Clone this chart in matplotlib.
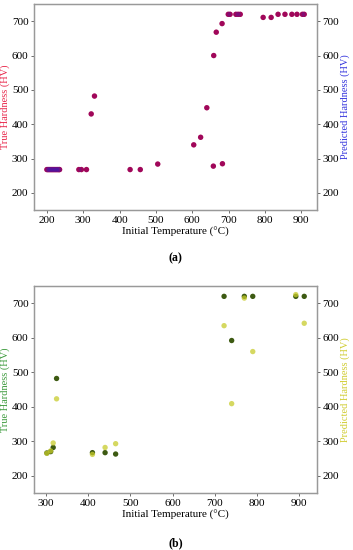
import numpy as np
import matplotlib
matplotlib.use('Agg')
import matplotlib.pyplot as plt

plt.rcParams['font.family'] = ['Liberation Serif', 'DejaVu Serif']

# panel (a)
temp_a = [200, 203, 206, 209, 212, 215, 218, 221, 224, 227, 230, 233, 235,
          288, 295, 309, 322, 331, 429, 457, 505, 604, 623, 640, 658, 659, 666,
          682, 683, 699, 704, 720, 726, 732, 795, 817, 836, 855, 874, 888, 903, 908]
true_a = [268, 268, 268, 268, 268, 268, 268, 268, 268, 268, 268, 268, 268,
          268, 268, 268, 430, 482, 268, 268, 284, 340, 362, 448, 278, 600, 668,
          693, 285, 720, 720, 720, 720, 720, 711, 711, 720, 720, 720, 720, 720, 720]
pred_a = true_a

# panel (b)
temp_b = [302, 311, 317, 325, 410, 440, 465, 722, 740, 770, 790, 892, 912]
true_b = [266, 270, 282, 482, 267, 267, 263, 720, 592, 720, 720, 720, 720]
pred_b = [265, 272, 295, 423, 262, 282, 293, 635, 409, 715, 560, 725, 642]

yticks = [200, 300, 400, 500, 600, 700]

fig = plt.figure(figsize=(3.53, 5.5), dpi=100)


def panel(rect, x, yt, yp, c_true, c_pred, a_pred, lab_true, lab_pred, xticks):
    ax = fig.add_axes(rect)
    ax.scatter(x, yt, s=15, color=c_true, edgecolors='none', zorder=3)
    ax.set_ylim(150, 750)
    ax.set_yticks(yticks)
    ax.set_xticks(xticks)
    ax.set_xlabel('Initial Temperature (°C)', fontsize=8, labelpad=2)
    ax.set_ylabel('True Hardness (HV)', color=lab_true, fontsize=7.5, labelpad=1)
    ax2 = ax.twinx()
    ax2.scatter(x, yp, s=15, color=c_pred, alpha=a_pred, edgecolors='none', zorder=3)
    ax2.set_ylim(150, 750)
    ax2.set_yticks(yticks)
    ax2.set_ylabel('Predicted Hardness (HV)', color=lab_pred, fontsize=7.5, labelpad=1)
    for a in (ax, ax2):
        a.tick_params(labelsize=8, length=2.5, width=0.6, color='#555555', pad=1.5)
        for sp in a.spines.values():
            sp.set_color('#999999')
            sp.set_linewidth(0.9)
    return ax, ax2


panel([0.0963, 0.618, 0.802, 0.3747], temp_a, true_a, pred_a, '#c4003a', '#2020cc', 0.22,
      '#e8264a', '#3333dd', [200, 300, 400, 500, 600, 700, 800, 900])
fig.text(0.497, 0.531, '(a)', ha='center', va='center', fontsize=8.5, fontweight='bold')

panel([0.0963, 0.1036, 0.802, 0.3764], temp_b, true_b, pred_b, '#3d5a12', '#c8cc2c', 0.75,
      '#3c9a3c', '#d0cc30', [300, 400, 500, 600, 700, 800, 900])
fig.text(0.497, 0.013, '(b)', ha='center', va='center', fontsize=8.5, fontweight='bold')

plt.savefig('out.png', dpi=100)
plt.close()
